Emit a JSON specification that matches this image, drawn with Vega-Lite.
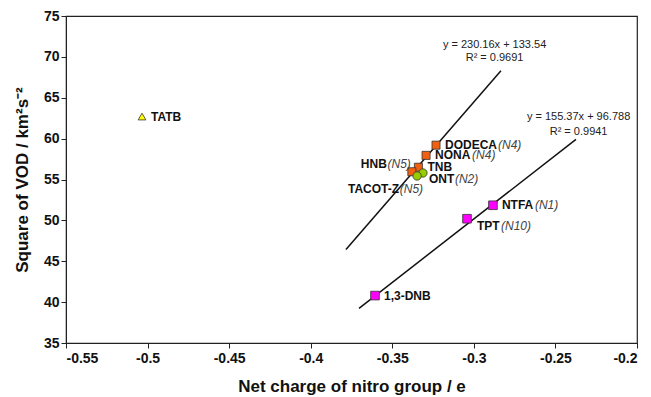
{
  "$schema": "https://vega.github.io/schema/vega-lite/v6.json",
  "width": 571,
  "height": 327,
  "autosize": {"type": "none"},
  "padding": {"left": 66, "top": 16, "right": 14, "bottom": 54},
  "background": "white",
  "config": {
    "font": "Liberation Sans",
    "view": {"stroke": "#222", "strokeWidth": 1.2},
    "axis": {
      "grid": false,
      "domainColor": "#222",
      "tickColor": "#222",
      "labelFont": "Liberation Sans",
      "labelFontWeight": "bold",
      "labelFontSize": 14,
      "labelColor": "#111",
      "titleFont": "Liberation Sans",
      "titleFontWeight": "bold",
      "titleFontSize": 17,
      "titleColor": "#111",
      "tickSize": 5
    }
  },
  "datasets": {
    "pts": [
      {"name": "TATB", "note": "", "group": "tri", "x": -0.5034, "y": 62.7},
      {"name": "DODECA", "note": "(N4)", "group": "orange", "x": -0.3232, "y": 59.2},
      {"name": "NONA", "note": "(N4)", "group": "orange", "x": -0.3293, "y": 57.95},
      {"name": "TNB", "note": "", "group": "orange", "x": -0.334, "y": 56.5},
      {"name": "HNB", "note": "(N5)", "group": "orange", "x": -0.338, "y": 55.95},
      {"name": "ONT", "note": "(N2)", "group": "green", "x": -0.3312, "y": 55.8},
      {"name": "TACOT-Z", "note": "(N5)", "group": "green", "x": -0.3348, "y": 55.43},
      {"name": "NTFA", "note": "(N1)", "group": "magenta", "x": -0.2883, "y": 51.85},
      {"name": "TPT", "note": "(N10)", "group": "magenta", "x": -0.3042, "y": 50.2},
      {"name": "1,3-DNB", "note": "", "group": "magenta", "x": -0.3606, "y": 40.8}
    ],
    "fits": [
      {"fit": "a", "x": -0.3784, "y": 46.45},
      {"fit": "a", "x": -0.2834, "y": 68.31},
      {"fit": "b", "x": -0.3704, "y": 39.24},
      {"fit": "b", "x": -0.2374, "y": 59.9}
    ],
    "eqs": [
      {"label": "y = 230.16x + 133.54", "x": -0.2873, "y": 71.4},
      {"label": "R² = 0.9691", "x": -0.2873, "y": 69.9},
      {"label": "y = 155.37x + 96.788", "x": -0.2358, "y": 62.7},
      {"label": "R² = 0.9941", "x": -0.2358, "y": 60.85}
    ]
  },
  "encoding": {
    "x": {
      "field": "x", "type": "quantitative",
      "scale": {"domain": [-0.55, -0.2], "nice": false, "zero": false},
      "axis": {"values": [-0.55, -0.5, -0.45, -0.4, -0.35, -0.3, -0.25, -0.2], "format": ".2~f", "labelExpr": "replace(datum.label, '−', '-')", "labelFontWeight": "bold", "title": "Net charge of nitro group / e", "titlePadding": 13, "labelPadding": 3}
    },
    "y": {
      "field": "y", "type": "quantitative",
      "scale": {"domain": [35, 75], "nice": false, "zero": false},
      "axis": {"values": [35, 40, 45, 50, 55, 60, 65, 70, 75], "labelFontWeight": "bold", "title": "Square of VOD / km²s⁻²", "titlePadding": 12, "labelPadding": 2}
    }
  },
  "layer": [
    {
      "data": {"name": "fits"},
      "mark": {"type": "line", "color": "#111", "strokeWidth": 1.5},
      "encoding": {"detail": {"field": "fit"}}
    },
    {
      "data": {"name": "eqs"},
      "mark": {"type": "text", "fontSize": 11, "color": "#222", "align": "center", "baseline": "middle"},
      "encoding": {"text": {"field": "label"}}
    },
    {
      "data": {"name": "pts"},
      "mark": {"type": "point", "filled": true, "stroke": "#333", "strokeWidth": 0.8, "opacity": 1},
      "encoding": {
        "shape": {"field": "group", "type": "nominal", "scale": {"domain": ["tri", "orange", "green", "magenta"], "range": ["triangle-up", "square", "circle", "square"]}, "legend": null},
        "fill": {"field": "group", "type": "nominal", "scale": {"domain": ["tri", "orange", "green", "magenta"], "range": ["#ffff00", "#f06010", "#99cc00", "#ff00ff"]}, "legend": null},
        "size": {"field": "group", "type": "nominal", "scale": {"domain": ["tri", "orange", "green", "magenta"], "range": [60, 75, 60, 75]}, "legend": null}
      }
    },
    {
      "data": {"name": "pts"},
      "transform": [{"filter": "indexof(['TATB','DODECA','NONA','TNB','NTFA','1,3-DNB'], datum.name) >= 0"}],
      "mark": {"type": "text", "align": "left", "baseline": "middle", "dx": 9, "fontSize": 12, "fontWeight": "bold", "color": "#111"},
      "encoding": {"text": {"field": "name"}}
    },
    {
      "data": {"name": "pts"},
      "transform": [{"filter": "datum.name == 'ONT'"}],
      "mark": {"type": "text", "align": "left", "baseline": "middle", "dx": 6, "dy": 6, "fontSize": 12, "fontWeight": "bold", "color": "#111"},
      "encoding": {"text": {"field": "name"}}
    },
    {
      "data": {"name": "pts"},
      "transform": [{"filter": "datum.name == 'TPT'"}],
      "mark": {"type": "text", "align": "left", "baseline": "middle", "dx": 10, "dy": 7, "fontSize": 12, "fontWeight": "bold", "color": "#111"},
      "encoding": {"text": {"field": "name"}}
    },
    {
      "data": {"name": "pts"},
      "transform": [{"filter": "datum.name == 'HNB'"}],
      "mark": {"type": "text", "align": "right", "baseline": "middle", "dx": -25, "dy": -8, "fontSize": 12, "fontWeight": "bold", "color": "#111"},
      "encoding": {"text": {"field": "name"}}
    },
    {
      "data": {"name": "pts"},
      "transform": [{"filter": "datum.name == 'TACOT-Z'"}],
      "mark": {"type": "text", "align": "right", "baseline": "middle", "dx": -18, "dy": 13, "fontSize": 12, "fontWeight": "bold", "color": "#111"},
      "encoding": {"text": {"field": "name"}}
    },
    {
      "data": {"name": "pts"},
      "transform": [{"filter": "datum.name == 'DODECA'"}],
      "mark": {"type": "text", "align": "left", "baseline": "middle", "dx": 62, "fontSize": 12, "fontStyle": "italic", "color": "#444"},
      "encoding": {"text": {"field": "note"}}
    },
    {
      "data": {"name": "pts"},
      "transform": [{"filter": "datum.name == 'NONA'"}],
      "mark": {"type": "text", "align": "left", "baseline": "middle", "dx": 46, "fontSize": 12, "fontStyle": "italic", "color": "#444"},
      "encoding": {"text": {"field": "note"}}
    },
    {
      "data": {"name": "pts"},
      "transform": [{"filter": "datum.name == 'NTFA'"}],
      "mark": {"type": "text", "align": "left", "baseline": "middle", "dx": 42, "fontSize": 12, "fontStyle": "italic", "color": "#444"},
      "encoding": {"text": {"field": "note"}}
    },
    {
      "data": {"name": "pts"},
      "transform": [{"filter": "datum.name == 'ONT'"}],
      "mark": {"type": "text", "align": "left", "baseline": "middle", "dx": 32, "dy": 6, "fontSize": 12, "fontStyle": "italic", "color": "#444"},
      "encoding": {"text": {"field": "note"}}
    },
    {
      "data": {"name": "pts"},
      "transform": [{"filter": "datum.name == 'TPT'"}],
      "mark": {"type": "text", "align": "left", "baseline": "middle", "dx": 34, "dy": 7, "fontSize": 12, "fontStyle": "italic", "color": "#444"},
      "encoding": {"text": {"field": "note"}}
    },
    {
      "data": {"name": "pts"},
      "transform": [{"filter": "datum.name == 'HNB'"}],
      "mark": {"type": "text", "align": "right", "baseline": "middle", "dx": -1, "dy": -8, "fontSize": 12, "fontStyle": "italic", "color": "#444"},
      "encoding": {"text": {"field": "note"}}
    },
    {
      "data": {"name": "pts"},
      "transform": [{"filter": "datum.name == 'TACOT-Z'"}],
      "mark": {"type": "text", "align": "right", "baseline": "middle", "dx": 6, "dy": 13, "fontSize": 12, "fontStyle": "italic", "color": "#444"},
      "encoding": {"text": {"field": "note"}}
    }
  ]
}
